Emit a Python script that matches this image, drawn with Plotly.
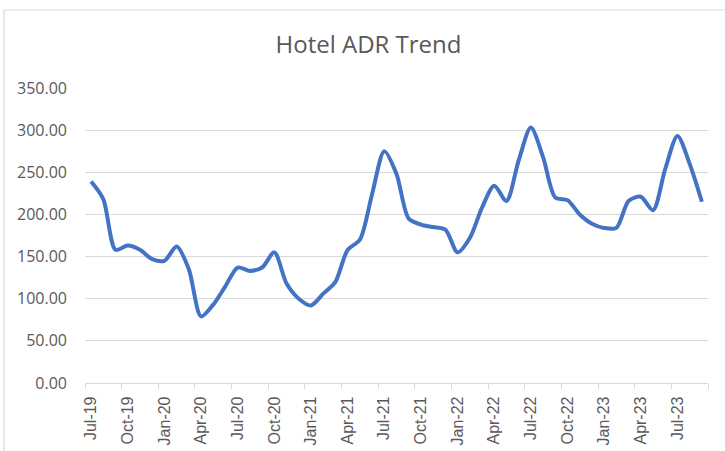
#!/usr/bin/env python3

import plotly.graph_objects as go

months = [
    'Jul-19', 'Aug-19', 'Sep-19', 'Oct-19', 'Nov-19', 'Dec-19',
    'Jan-20', 'Feb-20', 'Mar-20', 'Apr-20', 'May-20', 'Jun-20',
    'Jul-20', 'Aug-20', 'Sep-20', 'Oct-20', 'Nov-20', 'Dec-20',
    'Jan-21', 'Feb-21', 'Mar-21', 'Apr-21', 'May-21', 'Jun-21',
    'Jul-21', 'Aug-21', 'Sep-21', 'Oct-21', 'Nov-21', 'Dec-21',
    'Jan-22', 'Feb-22', 'Mar-22', 'Apr-22', 'May-22', 'Jun-22',
    'Jul-22', 'Aug-22', 'Sep-22', 'Oct-22', 'Nov-22', 'Dec-22',
    'Jan-23', 'Feb-23', 'Mar-23', 'Apr-23', 'May-23', 'Jun-23',
    'Jul-23', 'Aug-23', 'Sep-23',
]
adr = [
    239, 218, 158, 163, 158, 147,
    145, 162, 135, 79, 93, 115,
    137, 133, 137, 155, 118, 100,
    92, 106, 120, 158, 170, 224,
    275, 248, 195, 188, 185, 182,
    155, 172, 208, 234, 216, 264,
    303, 268, 220, 217, 200, 189,
    184, 184, 216, 221, 205, 254,
    293, 260, 215,
]
y_ticks = [0, 50, 100, 150, 200, 250, 300, 350]

idx = list(range(len(months)))
label_idx = idx[::3]

# plot area in pixels: x 85..708, y 88..383
PW, PH = 623, 295

fig = go.Figure(go.Scatter(
    x=idx, y=adr, mode='lines',
    line=dict(color='#4472C4', width=4, shape='spline', smoothing=0.8),
))

fig.update_layout(
    width=725, height=451,
    margin=dict(l=85, r=17, t=88, b=68, autoexpand=False),
    paper_bgcolor='white', plot_bgcolor='white',
    showlegend=False,
    title=dict(text='Hotel ADR Trend', x=368.5 / 725, xanchor='center',
               y=1 - 45 / 451, yanchor='middle',
               font=dict(family='Open Sans', size=24, color='#595959')),
    font=dict(family='Open Sans', color='#595959'),
    shapes=[dict(type='rect', xref='paper', yref='paper',
                 x0=-81 / PW, x1=1 + 40 / PW,
                 y0=-120 / PH, y1=1 + 78 / PH,
                 line=dict(color='#d9d9d9', width=1.2), layer='below')],
)

fig.update_xaxes(
    automargin=False,
    range=[-0.5, len(months) - 0.5],
    tickmode='array', tickvals=label_idx,
    ticktext=[months[i] for i in label_idx],
    tickangle=-90, ticks='', ticklabelstandoff=6,
    tickfont=dict(family='Liberation Sans', size=16, color='#595959'),
    showgrid=False, zeroline=False,
    showline=True, linecolor='#d9d9d9', linewidth=1.2,
    minor=dict(tick0=-0.5, dtick=3, ticks='outside', ticklen=5,
               tickcolor='#d9d9d9', showgrid=False),
)
fig.update_yaxes(
    automargin=False,
    range=[0, 350], tickmode='array', tickvals=y_ticks,
    tickformat='.2f', ticklabelstandoff=17,
    tickfont=dict(family='Open Sans', size=16, color='#595959'),
    showgrid=True, gridcolor='#d9d9d9', gridwidth=1.2,
    zeroline=False, showline=False,
)

# drop the page's default body margin so the figure sits at 0,0
fig.write_html('out.html', config={'displayModeBar': False},
               post_script="document.body.style.margin='0';")
